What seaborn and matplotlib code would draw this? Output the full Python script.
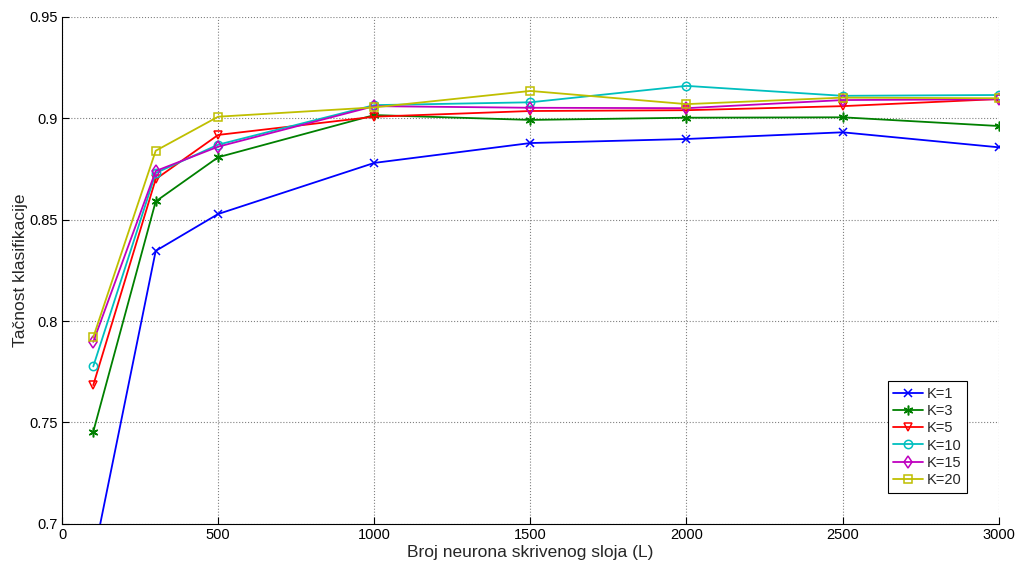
import numpy as np
import pandas as pd
import seaborn as sns
import matplotlib.pyplot as plt

# hidden layer sizes (x axis)
neurons = [100, 300, 500, 1000, 1500, 2000, 2500, 3000]

# accuracy per K
k_labels = ["K=1", "K=3", "K=5", "K=10", "K=15", "K=20"]
acc_k1 = [0.683, 0.8346, 0.8528, 0.8780, 0.8878, 0.8898, 0.8931, 0.8857]
acc_k3 = [0.7454, 0.8590, 0.8808, 0.9016, 0.8992, 0.9003, 0.9005, 0.8962]
acc_k5 = [0.7684, 0.8700, 0.8918, 0.9008, 0.9036, 0.9040, 0.9060, 0.9095]
acc_k10 = [0.7776, 0.8730, 0.8870, 0.9065, 0.9079, 0.9160, 0.9111, 0.9115]
acc_k15 = [0.7897, 0.8740, 0.8860, 0.9060, 0.9052, 0.9050, 0.9090, 0.9094]
acc_k20 = [0.7920, 0.8840, 0.9008, 0.9054, 0.9135, 0.9070, 0.9102, 0.9099]

colors = ["#0000ff", "#008000", "#ff0000", "#00bfbf", "#bf00bf", "#bfbf00"]
markers = ["x", (6, 2, 0), "v", "o", "d", "s"]

series = [acc_k1, acc_k3, acc_k5, acc_k10, acc_k15, acc_k20]
df = pd.concat(
    [pd.DataFrame({"L": neurons, "acc": vals, "K": lab})
     for lab, vals in zip(k_labels, series)],
    ignore_index=True,
)

sns.set_style("white")
plt.rcParams["font.family"] = ["Liberation Sans", "DejaVu Sans"]

fig, ax = plt.subplots(figsize=(10.17, 5.65), dpi=100)
fig.subplots_adjust(left=0.061, right=0.982, top=0.970, bottom=0.073)

sns.lineplot(
    data=df, x="L", y="acc", hue="K", hue_order=k_labels,
    palette=dict(zip(k_labels, colors)),
    linewidth=1.3, legend=False, ax=ax,
)

# matlab-like hollow markers (mixed filled/line markers, set per line)
for line, c, m in zip(ax.get_lines(), colors, markers):
    line.set_marker(m)
    line.set_markersize(7 if m == (6, 2, 0) else 6)
    line.set_markerfacecolor("none")
    line.set_markeredgecolor(c)
    line.set_markeredgewidth(1.1)

ax.set_xlim(0, 3000)
ax.set_ylim(0.7, 0.95)
ax.set_xticks(np.arange(0, 3001, 500))
ax.set_yticks([0.7, 0.75, 0.8, 0.85, 0.9, 0.95])
ax.set_yticklabels(["0.7", "0.75", "0.8", "0.85", "0.9", "0.95"])
ax.grid(True, linestyle=":", color="#808080", linewidth=0.8)
ax.tick_params(direction="in", length=5, labelsize=10.5, colors="black",
               left=True, bottom=True, pad=3)

for side in ["top", "right"]:
    ax.spines[side].set_visible(False)
for side in ["left", "bottom"]:
    ax.spines[side].set_color("black")
    ax.spines[side].set_linewidth(0.8)

ax.set_xlabel("Broj neurona skrivenog sloja (L)", fontsize=12.5, labelpad=2)
ax.set_ylabel("Tačnost klasifikacije", fontsize=12.5, labelpad=1)

leg = ax.legend(ax.get_lines()[:len(k_labels)], k_labels, loc="lower right",
                bbox_to_anchor=(0.966, 0.061), borderaxespad=0, fontsize=10.5,
                fancybox=False, edgecolor="black", framealpha=1,
                handlelength=2.0, borderpad=0.4, labelspacing=0.22,
                handletextpad=0.25)
leg.get_frame().set_linewidth(0.8)

fig.savefig("out.png", dpi=100)
